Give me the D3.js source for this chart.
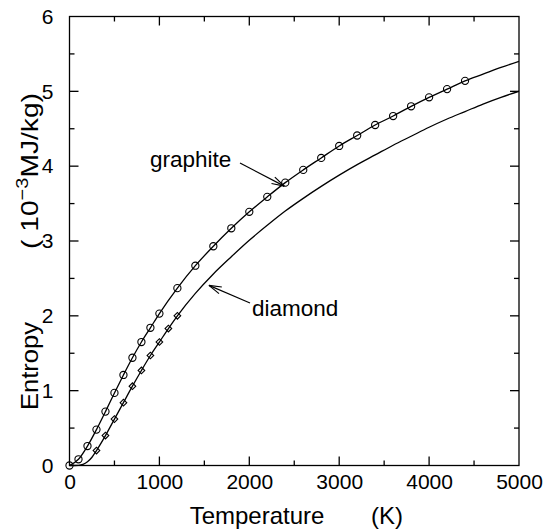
<!DOCTYPE html>
<html>
<head>
<meta charset="utf-8">
<script src="https://cdn.jsdelivr.net/npm/d3@7"></script>
<style>
  html, body { margin: 0; padding: 0; background: #fff; }
  svg text { font-family: "Liberation Sans", Arial, sans-serif; fill: #000; }
</style>
</head>
<body>
<svg id="chart" width="543" height="530"></svg>
<script>
// ---- data ----
const graphiteMarkerT = [0,100,200,300,400,500,600,700,800,900,1000,
  1200,1400,1600,1800,2000,2200,2400,2600,2800,3000,3200,3400,3600,3800,4000,4200,4400];
const graphiteMarkerS = [0,0.083,0.26,0.48,0.72,0.97,1.21,1.44,1.65,1.84,2.03,
  2.37,2.67,2.93,3.17,3.39,3.59,3.78,3.95,4.11,4.27,4.41,4.55,4.67,4.80,4.92,5.03,5.14];
const graphiteTailT = [4600,4800,5000];
const graphiteTailS = [5.23,5.32,5.40];

const diamondMarkerT = [300,400,500,600,700,800,900,1000,1100,1200];
const diamondMarkerS = [0.20,0.40,0.62,0.84,1.06,1.27,1.47,1.65,1.83,2.00];
const diamondLowT = [0,100,150,200,250];
const diamondLowS = [0,0.003,0.015,0.05,0.11];
const diamondHighT = [1400,1600,1800,2000,2200,2400,2600,2800,3000,3200,3400,3600,3800,4000,4200,4400,4600,4800,5000];
const diamondHighS = [2.30,2.56,2.79,3.01,3.21,3.40,3.57,3.73,3.88,4.02,4.15,4.28,4.40,4.52,4.63,4.73,4.83,4.92,5.00];

const xMajorTicks = [0,1000,2000,3000,4000,5000];
const xMinorTicks = [500,1500,2500,3500,4500];
const yMajorTicks = [0,1,2,3,4,5,6];
const yMinorTicks = [0.5,1.5,2.5,3.5,4.5,5.5];

// ---- layout ----
const svg = d3.select("#chart");
const x = d3.scaleLinear().domain([0,5000]).range([69.5,519]);
const y = d3.scaleLinear().domain([0,6]).range([465.5,16.5]);

const zip = (a,b) => a.map((v,i) => [v,b[i]]);
const graphiteLine = zip(graphiteMarkerT, graphiteMarkerS).concat(zip(graphiteTailT, graphiteTailS));
const diamondLine = zip(diamondLowT, diamondLowS).concat(zip(diamondMarkerT, diamondMarkerS), zip(diamondHighT, diamondHighS));

const line = d3.line().x(d => x(d[0])).y(d => y(d[1])).curve(d3.curveMonotoneX);

const plot = svg.append("g");
plot.append("path").datum(graphiteLine).attr("d", line)
  .attr("fill","none").attr("stroke","#000").attr("stroke-width",1.3);
plot.append("path").datum(diamondLine).attr("d", line)
  .attr("fill","none").attr("stroke","#000").attr("stroke-width",1.3);

// markers
plot.selectAll("circle.g").data(zip(graphiteMarkerT, graphiteMarkerS)).enter()
  .append("circle").attr("class","g")
  .attr("cx", d => x(d[0])).attr("cy", d => y(d[1])).attr("r", 3.6)
  .attr("fill","none").attr("stroke","#000").attr("stroke-width",1.1);
const dsym = d3.symbol().type(d3.symbolSquare).size(22);
plot.selectAll("path.d").data(zip(diamondMarkerT, diamondMarkerS)).enter()
  .append("path").attr("class","d")
  .attr("transform", d => `translate(${x(d[0])},${y(d[1])}) rotate(45)`)
  .attr("d", dsym)
  .attr("fill","none").attr("stroke","#000").attr("stroke-width",1.1);

// frame
const x0 = x(0), x1 = x(5000), y0 = y(0), y1 = y(6);
svg.append("rect").attr("x",x0).attr("y",y1).attr("width",x1-x0).attr("height",y0-y1)
  .attr("fill","none").attr("stroke","#000").attr("stroke-width",1.3);

// tick labels via d3 axes
const axB = d3.axisBottom(x).tickValues(xMajorTicks).tickSize(0).tickPadding(9).tickFormat(d3.format("d"));
const gB = svg.append("g").attr("transform",`translate(0,${y0})`).call(axB);
gB.select(".domain").remove();
gB.selectAll("text").attr("font-size", 21).attr("font-family","Liberation Sans, Arial, sans-serif");

const axL = d3.axisLeft(y).tickValues(yMajorTicks).tickSize(0).tickPadding(16).tickFormat(d3.format("d"));
const gL = svg.append("g").attr("transform",`translate(${x0},0)`).call(axL);
gL.select(".domain").remove();
gL.selectAll("text").attr("font-size", 21).attr("font-family","Liberation Sans, Arial, sans-serif");

// inward ticks on all four sides
const tickG = svg.append("g").attr("stroke","#000").attr("stroke-width",1.3);
function xt(vals, len) {
  vals.forEach(v => {
    tickG.append("line").attr("x1",x(v)).attr("x2",x(v)).attr("y1",y0).attr("y2",y0-len);
    tickG.append("line").attr("x1",x(v)).attr("x2",x(v)).attr("y1",y1).attr("y2",y1+len);
  });
}
function yt(vals, len) {
  vals.forEach(v => {
    tickG.append("line").attr("y1",y(v)).attr("y2",y(v)).attr("x1",x0).attr("x2",x0+len);
    tickG.append("line").attr("y1",y(v)).attr("y2",y(v)).attr("x1",x1).attr("x2",x1-len);
  });
}
xt(xMajorTicks.slice(1,-1), 9); xt(xMinorTicks, 5);
yt(yMajorTicks.slice(1,-1), 9); yt(yMinorTicks, 5);

// axis titles
svg.append("text").attr("x", 257).attr("y", 524).attr("text-anchor","middle")
  .attr("font-size", 24).text("Temperature");
svg.append("text").attr("x", 387).attr("y", 524).attr("text-anchor","middle")
  .attr("font-size", 24).text("(K)");

svg.append("text").attr("transform","translate(38,366) rotate(-90)")
  .attr("text-anchor","middle").attr("font-size", 24)
  .attr("textLength", 88).attr("lengthAdjust","spacingAndGlyphs")
  .text("Entropy");
const yu = svg.append("text").attr("transform","translate(38,171) rotate(-90)")
  .attr("text-anchor","middle").attr("font-size", 24)
  .attr("textLength", 156).attr("lengthAdjust","spacingAndGlyphs");
yu.append("tspan").text("( 10");
yu.append("tspan").attr("font-size", 17).attr("dy", -10).text("\u22123");
yu.append("tspan").attr("dy", 10).text("MJ/kg)");

// annotations
function arrow(fx, fy, tx, ty) {
  const g = svg.append("g").attr("stroke","#000").attr("stroke-width",1.2).attr("fill","none");
  g.append("line").attr("x1",fx).attr("y1",fy).attr("x2",tx).attr("y2",ty);
  const ang = Math.atan2(fy-ty, fx-tx);
  const L = 13, a = 0.28;
  [ang-a, ang+a].forEach(t => {
    g.append("line").attr("x1",tx).attr("y1",ty)
      .attr("x2",tx + L*Math.cos(t)).attr("y2",ty + L*Math.sin(t));
  });
}
svg.append("text").attr("x", 150).attr("y", 167).attr("font-size", 22.5).text("graphite");
arrow(240, 163, x(2400)-1, y(3.78)+3.5);
svg.append("text").attr("x", 252).attr("y", 316).attr("font-size", 22.5).text("diamond");
arrow(250, 303, x(1540)+1, y(2.42)+1);
</script>
</body>
</html>
